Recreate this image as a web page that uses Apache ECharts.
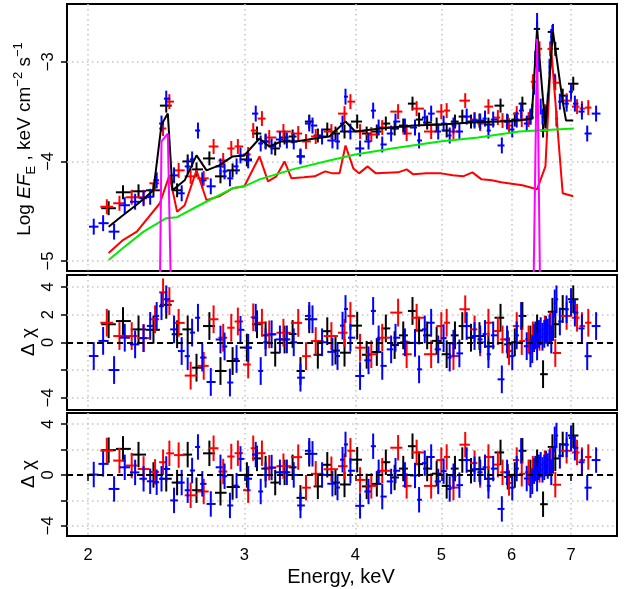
<!DOCTYPE html>
<html><head><meta charset="utf-8">
<script src="https://cdn.jsdelivr.net/npm/echarts@6/dist/echarts.min.js"></script>
<style>html,body{margin:0;padding:0;background:#fff}#c{width:628px;height:589px}</style>
</head><body><div id="c"></div>
<script>
// ---- axis ticks / labels ----
const xTickValues = [2, 3, 4, 5, 6, 7];
const topTicks = [-5, -4, -3];
const resTicks = [-4, -2, 0, 2, 4];
const midResLabels = [-4, 0, 2, 4];
const botResLabels = [-4, 0, 4];

// ---- black data set ----
const blackE = [2.11,2.19,2.28,2.37,2.45,2.52,2.59,2.65,2.74,2.82,2.91,3.02,3.10,3.17,3.25,3.33,3.40,3.47,3.55,3.63,3.72,3.80,3.89,4.02,4.12,4.23,4.33,4.43,4.53,4.64,4.72,4.82,4.94,5.07,5.18,5.28,5.40,5.52,5.65,5.83,5.94,6.05,6.17,6.30,6.41,6.51,6.67,6.72,6.85,7.04];
const blackF = [-4.47,-4.31,-4.30,-4.29,-3.44,-4.29,-4.00,-4.08,-3.97,-4.15,-4.09,-3.98,-3.72,-3.80,-3.87,-3.76,-3.75,-3.95,-3.60,-3.74,-3.68,-3.72,-3.70,-3.60,-3.72,-3.70,-3.62,-3.67,-3.64,-3.42,-3.58,-3.61,-3.63,-3.69,-3.60,-3.55,-3.60,-3.59,-3.63,-3.44,-3.60,-3.58,-3.42,-3.56,-2.67,-3.69,-2.70,-2.87,-3.34,-3.22];
const blackR1 = [1.3,1.53,0.93,0.9,2.7,0.58,0.93,-1.83,1.17,-2.07,-1.35,-0.38,1.3,0.5,-0.75,0.2,0.6,-2.07,1.66,-0.9,0.8,-0.6,-0.75,1.2,-0.9,-0.7,1.0,-0.2,0.5,2.26,0.85,0.5,0.1,-0.86,0.5,1.17,0.33,0.45,-0.3,1.77,-0.15,0.0,1.9,0.2,1.0,-2.3,2.2,1.3,2.4,3.1];
const blackR2 = [1.95,2.05,1.6,0.0,-0.3,-0.6,1.6,-1.2,1.7,-1.4,-0.95,0.0,1.3,0.5,-0.6,0.2,0.6,-1.8,1.66,-0.9,0.8,-0.6,-0.75,1.2,-0.9,-0.7,1.0,-0.2,0.5,2.26,0.85,0.5,0.1,-0.86,0.5,1.17,0.33,0.45,-0.3,1.77,-0.15,0.0,1.9,0.2,1.0,-2.3,2.2,1.3,2.4,3.1];
const blackFluxErr = 0.07;

// ---- red data set ----
const redE = [2.10,2.17,2.24,2.31,2.38,2.43,2.47,2.53,2.61,2.70,2.77,2.84,2.90,2.95,3.03,3.07,3.14,3.20,3.32,3.45,3.52,3.61,3.76,3.89,3.95,4.05,4.17,4.29,4.47,4.57,4.69,4.87,5.00,5.07,5.16,5.32,5.45,5.53,5.65,5.79,5.86,5.96,6.08,6.16,6.27,6.34,6.45,6.54,6.63,6.72,6.92,7.11,7.20,7.32];
const redF = [-4.455,-4.42,-4.36,-4.36,-4.22,-3.67,-3.40,-4.09,-4.15,-4.17,-3.85,-3.99,-3.87,-3.85,-3.93,-3.69,-3.57,-3.76,-3.70,-3.72,-3.80,-3.75,-3.70,-3.52,-3.40,-3.70,-3.73,-3.66,-3.50,-3.72,-3.47,-3.70,-3.50,-3.49,-3.70,-3.39,-3.58,-3.62,-3.45,-3.56,-3.59,-3.64,-3.52,-3.58,-3.58,-3.20,-2.87,-3.50,-2.87,-3.21,-3.39,-3.45,-3.47,-3.46];
const redR1 = [1.41,0.45,0.45,0.3,1.66,3.6,2.97,1.4,-2.4,-1.7,1.66,0.33,1.05,1.5,-1.6,1.8,1.41,0.57,0.69,1.4,-1.0,0.09,0.45,0.69,1.9,-0.39,-0.86,0.33,2.14,-0.86,1.77,-0.86,1.17,1.41,-0.99,2.38,0.93,0.0,1.41,0.81,0.21,-0.63,1.17,0.09,0.21,0.5,0.4,0.93,1.2,-0.77,1.9,1.77,1.17,1.41];
const redR2 = [1.92,1.13,0.74,0.47,0.24,1.0,1.7,1.56,-1.6,-1.3,2.1,0.27,1.45,1.71,-1.2,2.1,1.71,0.57,0.69,1.4,-1.0,0.09,0.45,0.69,1.9,-0.39,-0.86,0.33,2.14,-0.86,1.77,-0.86,1.17,1.41,-0.99,2.38,0.93,0.0,1.41,0.81,0.21,-0.63,1.17,0.09,0.21,0.5,0.4,0.93,1.2,-0.77,1.9,1.77,1.17,1.41];
const redFluxErr = 0.075;

// ---- blue data set ----
const blueE = [2.03,2.08,2.14,2.20,2.26,2.31,2.35,2.39,2.42,2.45,2.50,2.55,2.59,2.62,2.66,2.69,2.75,2.82,2.85,2.89,2.94,2.97,3.03,3.09,3.13,3.17,3.22,3.29,3.35,3.41,3.47,3.55,3.58,3.67,3.77,3.82,3.87,3.90,3.95,4.05,4.14,4.19,4.25,4.29,4.39,4.44,4.55,4.67,4.72,4.79,4.87,4.96,5.03,5.11,5.16,5.24,5.34,5.45,5.53,5.60,5.65,5.72,5.85,5.93,6.01,6.08,6.15,6.24,6.30,6.33,6.36,6.38,6.41,6.44,6.47,6.50,6.53,6.56,6.59,6.62,6.65,6.68,6.71,6.74,6.80,6.92,7.00,7.07,7.20,7.30,7.47];
const blueF = [-4.655,-4.62,-4.705,-4.44,-4.405,-4.37,-4.355,-4.19,-3.62,-3.37,-4.14,-4.32,-4.05,-3.98,-3.69,-4.19,-4.25,-4.05,-4.10,-4.17,-4.05,-3.94,-3.99,-3.52,-3.82,-3.80,-3.85,-3.78,-3.79,-3.80,-3.95,-3.62,-3.64,-3.75,-3.79,-3.80,-3.62,-3.35,-3.70,-3.87,-3.80,-3.49,-3.66,-3.83,-3.72,-3.60,-3.65,-3.66,-3.79,-3.56,-3.52,-3.70,-3.62,-3.74,-3.64,-3.70,-3.55,-3.59,-3.60,-3.57,-3.69,-3.58,-3.84,-3.60,-3.68,-3.58,-3.49,-3.62,-3.55,-3.50,-3.25,-2.97,-2.59,-3.02,-3.45,-3.55,-3.54,-3.52,-3.40,-3.05,-2.75,-2.70,-3.20,-3.57,-3.40,-3.42,-3.30,-3.42,-3.50,-3.72,-3.52];
const blueR1 = [-0.99,0.1,-2.0,0.33,-0.15,0.3,1.18,1.9,2.6,3.1,0.93,-0.63,-1.0,0.7,1.77,-1.1,-2.86,0.2,-0.3,-2.9,-1.2,0.9,-0.4,1.77,-2.07,0.0,0.58,0.21,0.21,0.0,-2.55,1.9,1.66,0.0,-0.69,-0.99,1.2,2.4,0.33,-2.43,-1.3,2.26,0.21,-1.7,-0.51,0.33,0.0,-0.04,-1.95,0.93,1.41,-0.51,0.3,-1.1,-0.1,-0.8,1.17,0.45,0.21,0.6,-0.86,0.5,-2.67,0.2,-1.0,0.5,1.9,-0.28,-0.8,-0.5,0.3,0.5,-0.3,0.6,0.8,0.4,0.6,0.9,0.7,1.0,0.2,1.1,2.8,3.1,1.5,2.38,2.9,2.14,1.0,-1.0,1.17];
const blueR2 = [0.03,0.87,-1.1,0.6,0.2,-0.3,-0.5,-0.57,-0.3,0.47,-2.0,-0.6,-1.2,0.35,2.2,-0.7,-2.28,0.6,-0.1,-2.4,-0.84,1.26,-0.3,1.6,-1.3,0.0,0.58,0.21,0.21,0.0,-2.4,1.9,1.66,0.0,-0.69,-0.99,1.2,2.4,0.33,-2.43,-1.3,2.26,0.21,-1.7,-0.51,0.33,0.0,-0.04,-1.95,0.93,1.41,-0.51,0.3,-1.1,-0.1,-0.8,1.17,0.45,0.21,0.6,-0.86,0.5,-2.67,0.2,-1.0,0.5,1.9,-0.28,-0.8,-0.5,0.3,0.5,-0.3,0.6,0.8,0.4,0.6,0.9,0.7,1.0,0.2,1.1,2.8,3.1,1.5,2.38,2.9,2.14,1.0,-1.0,1.17];
const blueFluxErr = 0.08;
const residualErr = 1;

// ---- model curves ----
const totalE = [2.11,2.19,2.28,2.37,2.42,2.46,2.49,2.57,2.65,2.72,2.81,2.91,3.00,3.12,3.20,3.30,3.43,3.60,3.74,3.90,4.00,4.27,4.65,5.00,5.40,5.80,6.12,6.32,6.41,6.55,6.68,6.85,6.91,7.04];
const totalF = [-4.655,-4.54,-4.42,-4.29,-3.63,-3.52,-4.29,-4.19,-3.94,-4.09,-4.04,-3.95,-3.94,-3.77,-3.85,-3.80,-3.80,-3.77,-3.75,-3.60,-3.70,-3.67,-3.64,-3.63,-3.61,-3.60,-3.59,-3.57,-2.67,-3.67,-2.70,-3.40,-3.59,-3.59];
const reflE = [2.11,2.19,2.27,2.41,2.47,2.52,2.57,2.65,2.72,2.81,2.91,3.00,3.12,3.19,3.26,3.33,3.39,3.50,3.60,3.70,3.77,3.84,3.90,3.98,4.04,4.13,4.22,4.47,4.57,4.65,4.81,5.00,5.15,5.29,5.42,5.55,5.70,5.84,6.17,6.41,6.55,6.65,6.85,7.04];
const reflF = [-4.92,-4.79,-4.705,-4.42,-4.14,-4.505,-4.44,-4.09,-4.39,-4.35,-4.27,-4.25,-3.95,-4.20,-4.15,-4.00,-4.17,-4.16,-4.15,-4.10,-4.12,-4.12,-3.84,-4.07,-4.12,-4.05,-4.12,-4.11,-4.08,-4.13,-4.12,-4.12,-4.14,-4.15,-4.11,-4.18,-4.19,-4.21,-4.24,-4.28,-4.05,-2.88,-4.32,-4.35];
const contE = [2.11,2.19,2.31,2.45,2.52,2.67,2.91,3.00,3.12,3.40,3.74,4.00,4.40,4.98,5.50,6.12,7.05];
const contF = [-4.99,-4.87,-4.705,-4.57,-4.56,-4.44,-4.27,-4.25,-4.18,-4.08,-3.99,-3.93,-3.87,-3.80,-3.76,-3.70,-3.67];
const lineAE = [2.41,2.42,2.46,2.48];
const lineAF = [-5.3,-3.80,-3.72,-5.3];
const lineBE = [6.35,6.41,6.46];
const lineBF = [-5.3,-2.77,-5.3];

// ---- helpers ----
const FONT = '"Liberation Sans", Arial, Helvetica, sans-serif';
const lg = Math.log10;
function binEdges(E) {
  const lo = [], hi = [];
  for (let i = 0; i < E.length; i++) {
    lo.push(i > 0 ? (E[i - 1] + E[i]) / 2 : E[i] - (E[1] - E[0]) / 2);
    hi.push(i < E.length - 1 ? (E[i] + E[i + 1]) / 2 : E[i] + (E[i] - E[i - 1]) / 2);
  }
  return { lo, hi };
}
function crossData(E, V, err) {
  const b = binEdges(E);
  return E.map((e, i) => {
    const d = Array.isArray(err) ? err[i] : err;
    return [lg(e), V[i], lg(b.lo[i]), lg(b.hi[i]), V[i] - d, V[i] + d];
  });
}
function crossRender(color) {
  return function (params, api) {
    const y = api.value(1);
    const a = api.coord([api.value(2), y]), b = api.coord([api.value(3), y]);
    const c = api.coord([api.value(0), api.value(4)]), d = api.coord([api.value(0), api.value(5)]);
    return { type: 'group', children: [
      { type: 'line', shape: { x1: a[0], y1: a[1], x2: b[0], y2: b[1] }, style: { stroke: color, lineWidth: 2 } },
      { type: 'line', shape: { x1: c[0], y1: c[1], x2: d[0], y2: d[1] }, style: { stroke: color, lineWidth: 2 } }
    ] };
  };
}
function crossSeries(idx, E, V, err, color) {
  return { type: 'custom', xAxisIndex: idx, yAxisIndex: idx, clip: true, silent: true,
    renderItem: crossRender(color), data: crossData(E, V, err), encode: { x: 0, y: 1 } };
}
function curve(E, F, color, w) {
  return { type: 'line', xAxisIndex: 0, yAxisIndex: 0, clip: true, silent: true, symbol: 'none',
    lineStyle: { color: color, width: w || 2 }, data: E.map((e, i) => [lg(e), F[i]]) };
}
function zeroLine(idx) {
  return { type: 'line', xAxisIndex: idx, yAxisIndex: idx, data: [], silent: true,
    markLine: { silent: true, symbol: ['none', 'none'], label: { show: false },
      lineStyle: { color: '#000', type: [6, 4], width: 1.8 }, data: [{ yAxis: 0 }] } };
}
const gridDot = { show: true, lineStyle: { color: '#c4c4c4', type: [1.5, 3.5], width: 1.5 } };
const minus = v => String(v).replace('-', '\u2212');

const xMin = lg(1.894), xMax = lg(7.886);
const xTickLog = xTickValues.map(lg);
function xAx(i) {
  const shown = i === 2;
  return { type: 'value', gridIndex: i, min: xMin, max: xMax,
    axisLine: { show: false }, splitLine: gridDot,
    axisTick: { show: shown, customValues: xTickLog, length: 6, lineStyle: { color: '#000', width: 1.5 } },
    axisLabel: { show: shown, customValues: xTickLog, margin: 11, color: '#000', fontSize: 16.5, fontFamily: FONT,
      formatter: v => String(Math.round(Math.pow(10, v))) } };
}
function yAx(i, min, max, ticks, labels) {
  return { type: 'value', gridIndex: i, min: min, max: max,
    axisLine: { show: false }, splitLine: gridDot,
    axisTick: { show: true, customValues: ticks, length: 6, lineStyle: { color: '#000', width: 1.5 } },
    axisLabel: { show: true, customValues: labels, rotate: 90, margin: 10, color: '#000', fontSize: 16.5, fontFamily: FONT,
      formatter: minus } };
}
const gridBase = { left: 67, width: 550, show: true, borderColor: '#000', borderWidth: 2, backgroundColor: 'transparent' };

const chart = echarts.init(document.getElementById('c'), null, { renderer: 'canvas' });
chart.setOption({
  animation: false,
  grid: [
    Object.assign({ top: 4, height: 267 }, gridBase),
    Object.assign({ top: 275, height: 135 }, gridBase),
    Object.assign({ top: 413, height: 123 }, gridBase)
  ],
  xAxis: [xAx(0), xAx(1), xAx(2)],
  yAxis: [
    yAx(0, -5.10, -2.42, topTicks, topTicks),
    yAx(1, -4.88, 4.85, resTicks, midResLabels),
    yAx(2, -4.80, 4.87, resTicks, botResLabels)
  ],
  series: [
    zeroLine(1), zeroLine(2),
    crossSeries(0, blackE, blackF, blackFluxErr, '#000000'),
    crossSeries(0, redE, redF, redFluxErr, '#ff0000'),
    crossSeries(0, blueE, blueF, blueFluxErr, '#0000ff'),
    curve(reflE, reflF, '#ff0000'),
    curve(contE, contF, '#00ee00'),
    curve(totalE, totalF, '#000000'),
    curve(lineAE, lineAF, '#ff00ff'),
    curve(lineBE, lineBF, '#ff00ff'),
    crossSeries(1, blackE, blackR1, residualErr, '#000000'),
    crossSeries(1, redE, redR1, residualErr, '#ff0000'),
    crossSeries(1, blueE, blueR1, residualErr, '#0000ff'),
    crossSeries(2, blackE, blackR2, residualErr, '#000000'),
    crossSeries(2, redE, redR2, residualErr, '#ff0000'),
    crossSeries(2, blueE, blueR2, residualErr, '#0000ff')
  ],
  graphic: [
    { type: 'text', x: 25, y: 139, rotation: Math.PI / 2, silent: true,
      style: { text: '{n|Log }{i|EF}{s|E}{n| , keV cm}{p|\u22122}{n| s}{p|\u22121}',
        align: 'center', verticalAlign: 'middle', textAlign: 'center', textVerticalAlign: 'middle',
        fill: '#000', font: '19px ' + FONT,
        rich: {
          n: { fontSize: 19, fontFamily: FONT, lineHeight: 26, fill: '#000' },
          i: { fontSize: 19, fontFamily: FONT, fontStyle: 'italic', lineHeight: 26, fill: '#000' },
          s: { fontSize: 13, fontFamily: FONT, lineHeight: 13, verticalAlign: 'bottom', fill: '#000' },
          p: { fontSize: 13, fontFamily: FONT, lineHeight: 13, verticalAlign: 'top', fill: '#000' }
        } } },
    { type: 'text', x: 29, y: 342, rotation: Math.PI / 2, silent: true,
      style: { text: '\u0394 \u03c7', align: 'center', verticalAlign: 'middle', textAlign: 'center', textVerticalAlign: 'middle',
        fill: '#000', font: '19px ' + FONT } },
    { type: 'text', x: 29, y: 474, rotation: Math.PI / 2, silent: true,
      style: { text: '\u0394 \u03c7', align: 'center', verticalAlign: 'middle', textAlign: 'center', textVerticalAlign: 'middle',
        fill: '#000', font: '19px ' + FONT } },
    { type: 'text', x: 341, y: 577, silent: true,
      style: { text: 'Energy, keV', align: 'center', verticalAlign: 'middle', textAlign: 'center', textVerticalAlign: 'middle',
        fill: '#000', font: '20px ' + FONT } }
  ]
});
</script></body></html>
